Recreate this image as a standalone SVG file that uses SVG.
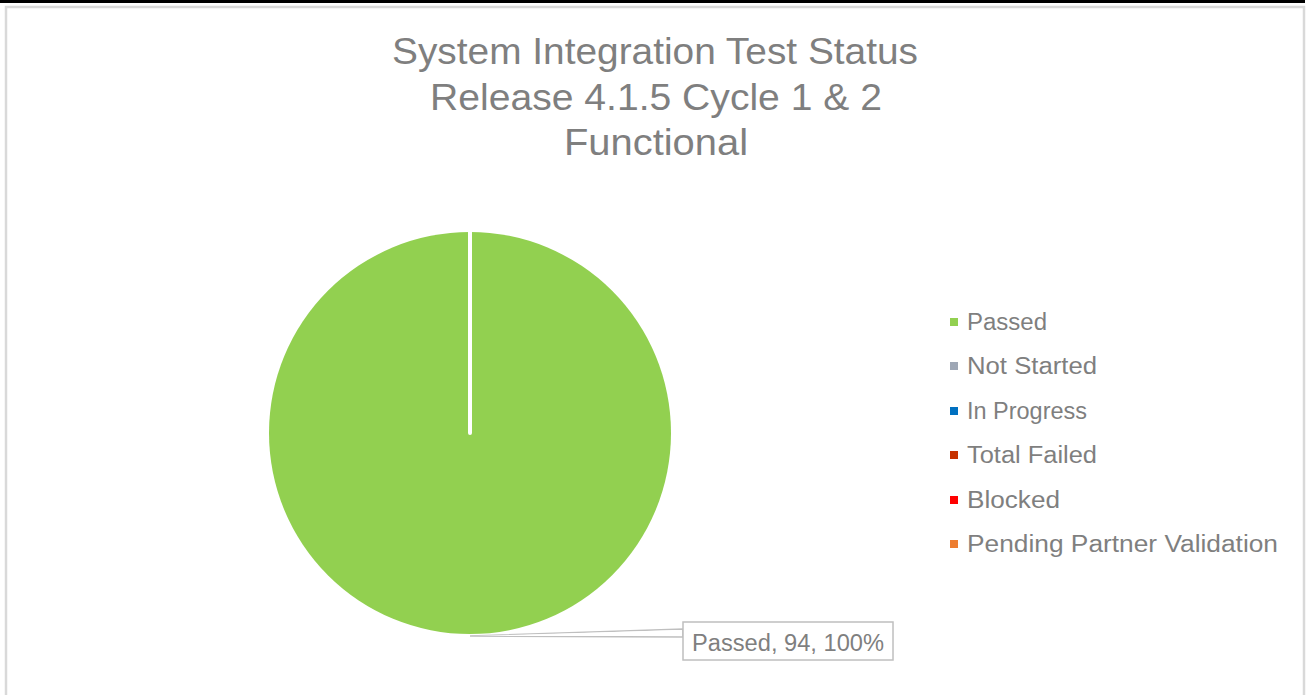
<svg xmlns="http://www.w3.org/2000/svg" width="1307" height="695" viewBox="0 0 1307 695">
<style>
.t{font-family:"Liberation Sans",Arial,sans-serif;fill:#7f7f7f}
.title{font-size:37px}
.leg{font-size:23px}
</style>
<rect x="0" y="0" width="1307" height="695" fill="#ffffff"/>
<rect x="0" y="0" width="1305" height="3" fill="#000000"/>
<rect x="6" y="7" width="1298" height="700" fill="#ffffff" stroke="#d9d9d9" stroke-width="2.5"/>
<g id="title">
<text class="t title" x="392" y="64" textLength="526" lengthAdjust="spacingAndGlyphs">System Integration Test Status</text>
<text class="t title" x="430" y="110" textLength="452" lengthAdjust="spacingAndGlyphs">Release 4.1.5 Cycle 1 &amp; 2</text>
<text class="t title" x="564" y="155" textLength="184" lengthAdjust="spacingAndGlyphs">Functional</text>
</g>
<g id="pie">
<circle cx="470" cy="433" r="201" fill="#92d050"/>
<line x1="470" y1="231" x2="470" y2="433" stroke="#ffffff" stroke-width="4" stroke-linecap="round"/>
</g>
<g id="connectors">
<polygon points="470,636 683,629 683,637" fill="#ffffff" stroke="#bfbfbf" stroke-width="1.5"/>
</g>
<g id="data-label">
<rect x="683" y="622" width="210" height="38" fill="#ffffff" stroke="#bfbfbf" stroke-width="1.5"/>
<polygon points="682,630 682,636 472,636" fill="#ffffff"/>
<text class="t leg" x="692" y="651" textLength="192" lengthAdjust="spacingAndGlyphs">Passed, 94, 100%</text>
</g>
<g id="legend">
<g id="leg-passed"><rect x="950" y="318" width="8" height="8" fill="#92d050"/><text class="t leg" x="967" y="330" textLength="80" lengthAdjust="spacingAndGlyphs">Passed</text></g>
<g id="leg-notstarted"><rect x="950" y="362" width="8" height="8" fill="#9ea7b5"/><text class="t leg" x="967" y="374" textLength="130" lengthAdjust="spacingAndGlyphs">Not Started</text></g>
<g id="leg-inprogress"><rect x="950" y="407" width="8" height="8" fill="#0070c0"/><text class="t leg" x="967" y="419" textLength="120" lengthAdjust="spacingAndGlyphs">In Progress</text></g>
<g id="leg-failed"><rect x="950" y="451" width="8" height="8" fill="#c63200"/><text class="t leg" x="967" y="463" textLength="130" lengthAdjust="spacingAndGlyphs">Total Failed</text></g>
<g id="leg-blocked"><rect x="950" y="496" width="8" height="8" fill="#ff0000"/><text class="t leg" x="967" y="508" textLength="93" lengthAdjust="spacingAndGlyphs">Blocked</text></g>
<g id="leg-pending"><rect x="950" y="540" width="8" height="8" fill="#ed7d31"/><text class="t leg" x="967" y="552" textLength="311" lengthAdjust="spacingAndGlyphs">Pending Partner Validation</text></g>
</g>
</svg>
